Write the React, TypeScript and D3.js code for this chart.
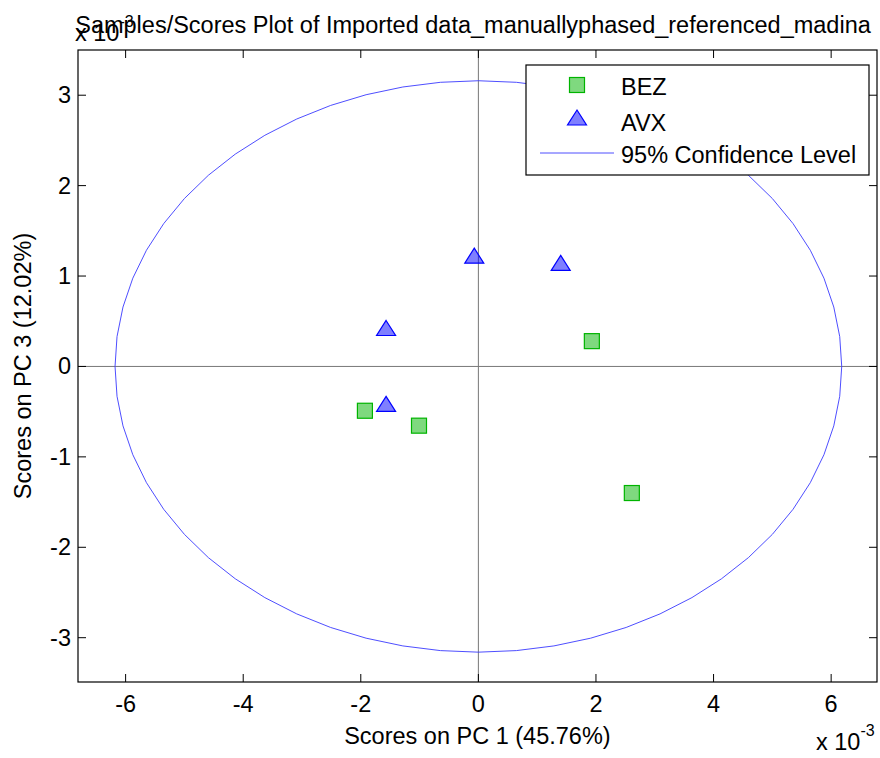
import React from 'react';
import * as d3 from 'd3';

// scores (x 10^-3)
const bezPC1 = [-1.93, -1.01, 1.93, 2.61];
const bezPC3 = [-0.49, -0.655, 0.28, -1.4];
const avxPC1 = [-0.07, 1.40, -1.57, -1.57];
const avxPC3 = [1.22, 1.14, 0.42, -0.42];

const xTicks = [-6, -4, -2, 0, 2, 4, 6];
const yTicks = [-3, -2, -1, 0, 1, 2, 3];

// 95% confidence ellipse radii
const ellipseRx = 6.18;
const ellipseRy = 3.16;
const ellipseSteps = 60;

const W = 880;
const H = 758;
const margin = { top: 50, right: 3, bottom: 76, left: 78 };
const font = '"Liberation Sans", Arial, sans-serif';
const fs = 23.5;

const App = () => {
    const plotW = W - margin.left - margin.right;
    const plotH = H - margin.top - margin.bottom;

    const x = d3.scaleLinear().domain([-6.81, 6.78]).range([0, plotW]);
    const y = d3.scaleLinear().domain([-3.49, 3.5]).range([plotH, 0]);

    // ellipse outline
    const ellipsePts: [number, number][] = d3.range(ellipseSteps).map(i => {
        const t = (i / ellipseSteps) * 2 * Math.PI;
        return [ellipseRx * Math.cos(t), ellipseRy * Math.sin(t)];
    });
    const ellipsePath = d3.line<[number, number]>()
        .x(d => x(d[0]))
        .y(d => y(d[1]))
        .curve(d3.curveLinearClosed)(ellipsePts);

    const bez = bezPC1.map((v, i) => ({ x: v, y: bezPC3[i] }));
    const avx = avxPC1.map((v, i) => ({ x: v, y: avxPC3[i] }));

    const sq = 15;
    const tri = (cx: number, cy: number) =>
        `M${cx},${cy - 8} L${cx + 9.5},${cy + 7} L${cx - 9.5},${cy + 7} Z`;

    const tickLen = 8;

    return (
        <div style={{ position: 'absolute', left: 0, top: 0 }}>
            <svg width={W} height={H} style={{ display: 'block', background: '#fff' }} fontFamily={font}>
                <g transform={`translate(${margin.left},${margin.top})`}>
                    {/* zero lines */}
                    <line x1={x(0)} x2={x(0)} y1={0} y2={plotH} stroke="#777" strokeWidth={1} />
                    <line x1={0} x2={plotW} y1={y(0)} y2={y(0)} stroke="#777" strokeWidth={1} />

                    {/* confidence ellipse */}
                    <path d={ellipsePath || ''} fill="none" stroke="#3a3aff" strokeWidth={0.9} />

                    {/* BEZ squares */}
                    {bez.map((d, i) => (
                        <rect key={'b' + i} x={x(d.x) - sq / 2} y={y(d.y) - sq / 2} width={sq} height={sq}
                            fill="rgba(0,180,0,0.5)" stroke="#00b400" strokeWidth={1.2} />
                    ))}
                    {/* AVX triangles */}
                    {avx.map((d, i) => (
                        <path key={'a' + i} d={tri(x(d.x), y(d.y))}
                            fill="rgba(0,0,255,0.5)" stroke="#0000ff" strokeWidth={1.2} />
                    ))}

                    {/* frame */}
                    <rect x={0} y={0} width={plotW} height={plotH} fill="none" stroke="#000" strokeWidth={1.2} />

                    {/* x ticks */}
                    {xTicks.map(t => (
                        <g key={'xt' + t}>
                            <line x1={x(t)} x2={x(t)} y1={plotH} y2={plotH - tickLen} stroke="#000" />
                            <line x1={x(t)} x2={x(t)} y1={0} y2={tickLen} stroke="#000" />
                            <text x={x(t)} y={plotH + 30} textAnchor="middle" fontSize={fs}>{t}</text>
                        </g>
                    ))}
                    {/* y ticks */}
                    {yTicks.map(t => (
                        <g key={'yt' + t}>
                            <line x1={0} x2={tickLen} y1={y(t)} y2={y(t)} stroke="#000" />
                            <line x1={plotW} x2={plotW - tickLen} y1={y(t)} y2={y(t)} stroke="#000" />
                            <text x={-7} y={y(t) + 8} textAnchor="end" fontSize={fs}>{t}</text>
                        </g>
                    ))}

                    {/* axis labels */}
                    <text x={x(0) - 1} y={plotH + 62} textAnchor="middle" fontSize={fs}>Scores on PC 1 (45.76%)</text>
                    <text transform={`translate(${-47},${plotH / 2}) rotate(-90)`} textAnchor="middle" fontSize={fs}>Scores on PC 3 (12.02%)</text>

                    {/* exponent labels */}
                    <text x={-3} y={-9} fontSize={fs}>x 10<tspan dy={-14} fontSize={16}>-3</tspan></text>
                    <text x={plotW - 61} y={plotH + 68} fontSize={fs}>x 10<tspan dy={-14} fontSize={16}>-3</tspan></text>
                </g>

                {/* title */}
                <text x={473} y={33} textAnchor="middle" fontSize={fs}>Samples/Scores Plot of Imported data_manuallyphased_referenced_madina</text>

                {/* legend */}
                <g transform="translate(526,65)">
                    <rect x={0} y={0} width={343} height={110} fill="#fff" stroke="#000" strokeWidth={1.2} />
                    <rect x={51 - sq / 2} y={20 - sq / 2} width={sq} height={sq}
                        fill="rgba(0,180,0,0.5)" stroke="#00b400" strokeWidth={1.2} />
                    <text x={95} y={30} fontSize={fs}>BEZ</text>
                    <path d={tri(51, 53)} fill="rgba(0,0,255,0.5)" stroke="#0000ff" strokeWidth={1.2} />
                    <text x={95} y={66} fontSize={fs}>AVX</text>
                    <line x1={14} x2={88} y1={88} y2={88} stroke="#3a3aff" strokeWidth={0.9} />
                    <text x={95} y={98} fontSize={fs}>95% Confidence Level</text>
                </g>
            </svg>
        </div>
    );
};

export default App;
